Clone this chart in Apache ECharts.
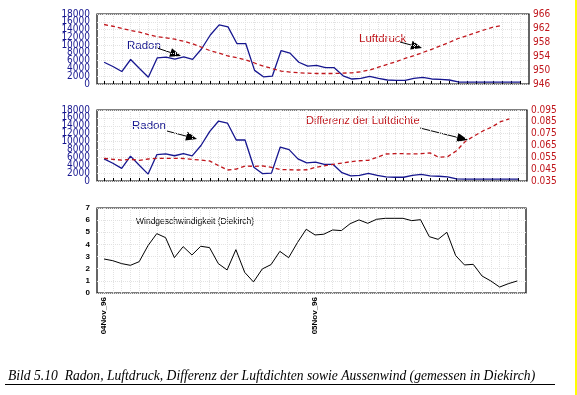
<!DOCTYPE html>
<html><head><meta charset="utf-8">
<script src="https://cdn.jsdelivr.net/npm/echarts@6/dist/echarts.min.js"></script>
<style>html,body{margin:0;padding:0;background:#fff}#c{width:577px;height:395px}</style>
</head><body><div id="c"></div>
<script>
// hour index from 04 Nov 96 00:00 (48 hourly values)
const hours = [0,1,2,3,4,5,6,7,8,9,10,11,12,13,14,15,16,17,18,19,20,21,22,23,24,25,26,27,28,29,30,31,32,33,34,35,36,37,38,39,40,41,42,43,44,45,46,47];
const xTickHours = [0, 24];
const xTickLabels = ['04Nov_96', '05Nov_96'];

const radon = [5600,4500,3200,6300,4000,1750,6700,6900,6400,6950,6350,9000,12600,15200,14700,10400,10400,3500,1850,2000,8600,7950,5600,4600,4800,4200,4200,2100,1280,1450,1950,1450,1030,950,950,1450,1700,1290,1200,1030,520,500,500,500,500,500,500,500];
const luftdruck = [963.0,962.5,961.9,961.3,960.8,960.1,959.5,959.2,958.8,958.2,957.5,956.5,955.5,954.8,954.0,953.5,952.9,952.0,951.1,950.4,949.7,949.4,949.2,949.1,949.0,949.0,949.0,949.1,949.2,949.5,950.0,950.8,951.6,952.4,953.3,954.1,955.0,955.9,956.9,957.9,959.0,959.8,960.7,961.5,962.3,962.7];
const differenz = [0.0542,0.0533,0.0527,0.0533,0.0525,0.0536,0.0542,0.0542,0.0542,0.0540,0.0533,0.0527,0.0519,0.0480,0.0443,0.0451,0.0477,0.0474,0.0477,0.0465,0.0447,0.0445,0.0443,0.0445,0.0465,0.0478,0.0491,0.0502,0.0513,0.0521,0.0525,0.0550,0.0578,0.0581,0.0581,0.0578,0.0581,0.0587,0.0550,0.0556,0.0605,0.0685,0.0730,0.0773,0.0806,0.0851,0.0874];
const wind = [2.80,2.66,2.42,2.28,2.58,3.90,4.89,4.56,2.91,3.82,3.13,3.85,3.74,2.42,1.90,3.57,1.70,0.91,1.98,2.34,3.43,2.91,4.15,5.25,4.78,4.84,5.19,5.14,5.71,6.02,5.74,6.07,6.15,6.15,6.15,5.96,6.04,4.64,4.42,5.00,3.08,2.31,2.36,1.40,0.99,0.49,0.77,0.99];

const radonTicksA = [0,4000,8000,12000,16000];
const radonTicksB = [2000,6000,10000,14000,18000];
const druckTicks = [946,950,954,958,962,966];
const diffTicks = [0.035,0.045,0.055,0.065,0.075,0.085,0.095];
const windTicks = [0,1,2,3,4,5,6,7];

const NAVY = '#16168f', RED = '#c0161c';
const NARROW = "'Liberation Sans Narrow', 'DejaVu Sans Condensed', 'Liberation Sans', sans-serif";
const pairs = arr => arr.map((v, i) => [hours[i], v]);

function xAx(gi, withLabels) {
  return {
    type: 'value', gridIndex: gi, min: -0.8, max: 48,
    axisLine: {show: false},
    axisTick: {show: !withLabels, inside: true, length: 3, customValues: hours, lineStyle: {color: '#000'}},
    splitLine: {show: true, interval: 1, lineStyle: {type: 'dotted', color: '#e2e2e2'}},
    axisLabel: withLabels ? {
      customValues: xTickHours, rotate: 90, fontSize: 8, color: '#000', margin: 4,
      fontFamily: 'Liberation Sans', fontWeight: 'bold', hideOverlap: false,
      formatter: v => xTickLabels[xTickHours.indexOf(v)]
    } : {show: false}
  };
}
function yAx(gi, min, max, ticks, color, pos, fmt, split, size, interval) {
  return {
    type: 'value', gridIndex: gi, min: min, max: max, position: pos,
    axisLine: {show: false}, axisTick: {show: false},
    splitLine: {show: !!split, lineStyle: {type: 'dotted', color: '#e2e2e2'}},
    interval: interval,
    axisLabel: {customValues: ticks, color: color, fontSize: size || 10, fontFamily: NARROW,
      hideOverlap: false,
      margin: pos === 'left' ? 7 : 4, formatter: fmt || (v => String(v))}
  };
}

function arrow(x1, y1, x2, y2) {
  const a = Math.atan2(y2 - y1, x2 - x1), c = Math.cos(a), s = Math.sin(a);
  const L = 11, W = 4.5;
  const bx = x2 - L * c, by = y2 - L * s;
  return [
    {type: 'line', shape: {x1: x1, y1: y1, x2: bx, y2: by}, style: {stroke: '#000', lineWidth: 1}},
    {type: 'polygon', shape: {points: [[x2, y2], [bx - W * s, by + W * c], [bx + W * s, by - W * c]]}, style: {fill: '#000'}}
  ];
}
function txt(x, y, t, color, font) {
  return {type: 'text', x: x, y: y, style: {text: t, fill: color, font: font, textVerticalAlign: 'middle'}};
}

const chart = echarts.init(document.getElementById('c'), null, {renderer: 'canvas'});
chart.setOption({
  animation: false,
  backgroundColor: '#ffffff',
  grid: [
    {left: 97, top: 14, width: 432, height: 70, show: true, borderColor: '#000', borderWidth: 1.2},
    {left: 97, top: 110, width: 430, height: 71, show: true, borderColor: '#000', borderWidth: 1.2},
    {left: 97, top: 208, width: 429, height: 85, show: true, borderColor: '#000', borderWidth: 1.2}
  ],
  xAxis: [xAx(0, false), xAx(1, false), xAx(2, true)],
  yAxis: [
    yAx(0, 0, 18000, radonTicksA, NAVY, 'left', null, true, 10, 2000),
    yAx(0, 946, 966, druckTicks, RED, 'right', null, false, 10),
    yAx(1, 0, 18000, radonTicksA, NAVY, 'left', null, true, 10, 2000),
    yAx(1, 0.035, 0.095, diffTicks, RED, 'right', v => v.toFixed(3), false, 10),
    Object.assign(yAx(2, 0, 7, windTicks, '#000', 'left', null, true, 8, 1),
      {axisLabel: {customValues: windTicks, color: '#000', fontSize: 8, fontWeight: 'bold', fontFamily: 'Liberation Sans', margin: 7, hideOverlap: false}}),
    yAx(0, 0, 18000, radonTicksB, NAVY, 'left', null, false, 10),
    yAx(1, 0, 18000, radonTicksB, NAVY, 'left', null, false, 10)
  ],
  series: [
    {type: 'line', xAxisIndex: 0, yAxisIndex: 0, data: pairs(radon), showSymbol: false, lineStyle: {color: NAVY, width: 1.3}},
    {type: 'line', xAxisIndex: 0, yAxisIndex: 1, data: pairs(luftdruck), showSymbol: false, lineStyle: {color: RED, width: 1.3, type: [4, 3]}},
    {type: 'line', xAxisIndex: 1, yAxisIndex: 2, data: pairs(radon), showSymbol: false, lineStyle: {color: NAVY, width: 1.3}},
    {type: 'line', xAxisIndex: 1, yAxisIndex: 3, data: pairs(differenz), showSymbol: false, lineStyle: {color: RED, width: 1.3, type: [4, 3]}},
    {type: 'line', xAxisIndex: 2, yAxisIndex: 4, data: pairs(wind), showSymbol: false, lineStyle: {color: '#000', width: 1}}
  ],
  graphic: [
    txt(127, 46, 'Radon', NAVY, '11.5px Liberation Sans'),
    ...arrow(157, 48, 181, 56),
    txt(359, 39, 'Luftdruck', RED, '11.5px Liberation Sans'),
    ...arrow(400, 42, 422, 48),
    txt(132, 126, 'Radon', NAVY, '11.5px Liberation Sans'),
    ...arrow(167, 131, 197, 139),
    txt(306, 121, 'Differenz der Luftdichte', RED, '11px Liberation Sans'),
    ...arrow(420, 128, 468, 140),
    txt(136, 222, 'Windgeschwindigkeit (Diekirch)', '#000', '8.5px Liberation Sans'),
    txt(8, 376, 'Bild 5.10  Radon, Luftdruck, Differenz der Luftdichten sowie Aussenwind (gemessen in Diekirch)', '#000', 'italic 13.6px Liberation Serif'),
    {type: 'line', shape: {x1: 5, y1: 384.5, x2: 555, y2: 384.5}, style: {stroke: '#000', lineWidth: 1}},
    {type: 'rect', shape: {x: 575, y: 0, width: 2, height: 395}, style: {fill: '#ffff00'}}
  ]
});
</script></body></html>
